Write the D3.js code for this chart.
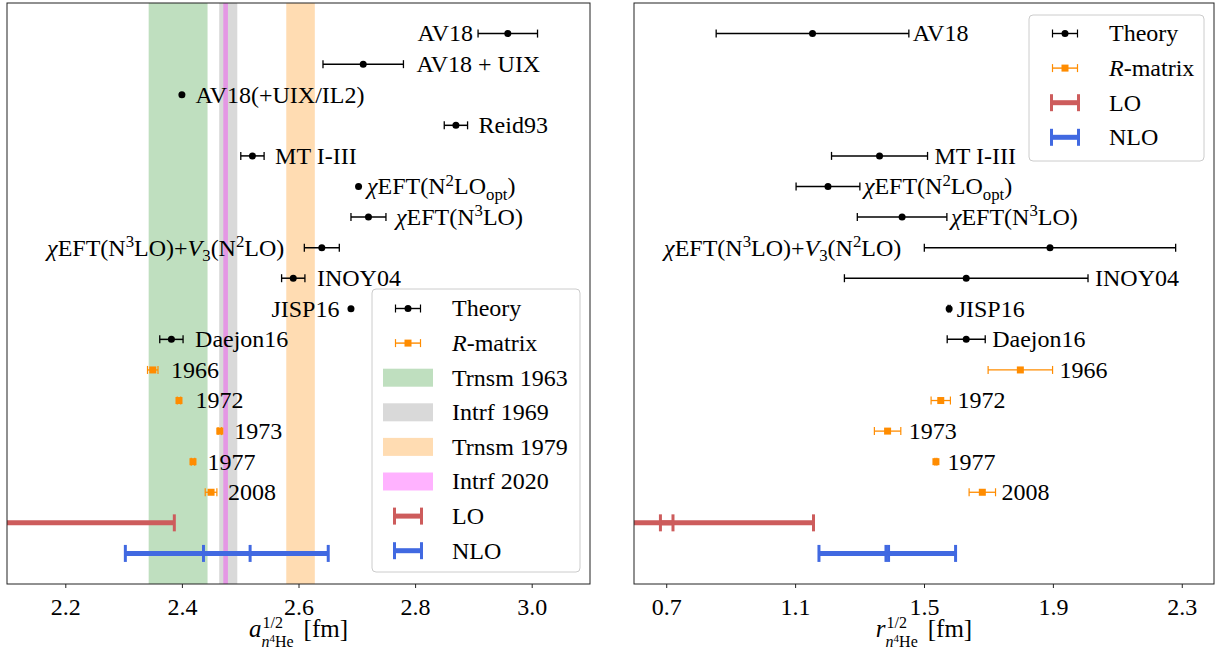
<!DOCTYPE html>
<html><head><meta charset="utf-8">
<script src="https://cdn.jsdelivr.net/npm/d3@7"></script>
<style>
body{margin:0;background:#fff}
svg{display:block}
svg text{font-family:'Liberation Serif','DejaVu Serif',serif;fill:#000}
</style>
</head><body>
<svg id="c" width="1217" height="652" font-family="'Liberation Serif','DejaVu Serif',serif"></svg>
<script>
// ---------------- DATA ----------------
const rowNames = ["AV18","AV18 + UIX","AV18(+UIX/IL2)","Reid93","MT I-III",
  "*χ*EFT(N^{2}LO_{opt})","*χ*EFT(N^{3}LO)","*χ*EFT(N^{3}LO)+*V*_{3}(N^{2}LO)",
  "INOY04","JISP16","Daejon16","1966","1972","1973","1977","2008","LO","NLO"];

// left panel: a^{1/2} [fm]
const theoryRowsA = [0,1,2,3,4,5,6,7,8,9,10];
const theoryValA  = [2.959,2.711,2.400,2.870,2.521,2.703,2.720,2.640,2.591,2.690,2.382];
const theoryErrA  = [0.051,0.069,0.000,0.020,0.020,0.000,0.030,0.030,0.020,0.000,0.020];
const rmatRows    = [11,12,13,14,15];
const rmatValA    = [2.350,2.395,2.465,2.419,2.450];
const rmatErrA    = [0.009,0.003,0.003,0.003,0.010];
const eftRows     = [16,17];
const eftValA     = [1.950,2.477];
const eftInnerErrA= [0.050,0.040];
const eftOuterErrA= [0.437,0.174];
const bandNames = ["Trnsm 1963","Intrf 1969","Trnsm 1979","Intrf 2020"];
const bandLo    = [2.343,2.464,2.579,2.471];
const bandHi    = [2.444,2.495,2.628,2.479];
const xTicksA = [2.2,2.4,2.6,2.8,3.0];

// right panel: r^{1/2} [fm]
const theoryRowsR = [0,4,5,6,7,8,9,10];
const theoryValR  = [1.154,1.362,1.202,1.432,1.891,1.631,1.578,1.631];
const theoryErrR  = [0.299,0.149,0.099,0.139,0.390,0.378,0.003,0.059];
const rmatValR    = [1.799,1.552,1.387,1.537,1.681];
const rmatErrR    = [0.100,0.030,0.041,0.003,0.041];
const eftValR     = [0.7015,1.386];
const eftInnerErrR= [0.0195,0.004];
const eftOuterErrR= [0.4555,0.212];
const xTicksR = [0.7,1.1,1.5,1.9,2.3];

const legendSeries = ["Theory","*R*-matrix"];
const legendEft = ["LO","NLO"];

// ---------------- LAYOUT / STYLE ----------------
const FONT = "'Liberation Serif','DejaVu Serif',serif";
const FS = 24;
const COL = {theory:"#000", rmat:"#ff8c00", LO:"#cd5c5c", NLO:"#4169e1"};
const bandFill = ["green","gray","darkorange","magenta"];
const bandOpacity = [0.25,0.3,0.3,0.3];
const labelSideA = ["L","R","R","R","R","R","R","L","R","L","R","R","R","R","R","R"];
const labelGapA  = [5,13,10,11,11,5,10,20,12,8,12,13,13,11,11,11];
const labelRowsR = [0,4,5,6,7,8,9,10,11,12,13,14,15];
const labelSideR = ["R","R","R","R","L","R","R","R","R","R","R","R","R"];
const labelGapR  = [4,7,4,4,23,7,4,7,7,7,8,8,6];

const svg = d3.select("#c");
const yTop = 3, yBot = 584;
const y = d3.scaleLinear().domain([-1,18]).range([yTop,yBot]);

function parseRich(s){
  const segs=[]; let i=0, italic=false, buf="";
  const push=(t,mode)=>{ if(t) segs.push({t,mode,italic}); };
  while(i<s.length){
    const c=s[i];
    if(c==="*"){ push(buf,"n"); buf=""; italic=!italic; i++; }
    else if((c==="^"||c==="_") && s[i+1]==="{"){
      push(buf,"n"); buf="";
      const j=s.indexOf("}",i);
      const inner=s.slice(i+2,j);
      segs.push({t:inner,mode:c==="^"?"sup":"sub",italic:false});
      i=j+1;
    } else { buf+=c; i++; }
  }
  push(buf,"n");
  return segs;
}
function richText(parent, xpos, yc, s, fs, anchor){
  const t = parent.append("text").attr("x",xpos).attr("y",yc+0.33*fs)
    .attr("font-size",fs).attr("font-family",FONT).attr("text-anchor",anchor||"start");
  const segs=parseRich(s);
  let shift=0;
  segs.forEach(sg=>{
    const ts=t.append("tspan").text(sg.t);
    if(sg.italic) ts.attr("font-style","italic");
    let target=0, size=fs;
    if(sg.mode==="sup"){ target=-0.36*fs; size=0.7*fs; }
    if(sg.mode==="sub"){ target=0.22*fs; size=0.7*fs; }
    ts.attr("font-size",size);
    if(target-shift!==0) ts.attr("dy",target-shift);
    shift=target;
  });
  return t;
}
function measure(str,size,italic){
  const t=svg.append("text").attr("font-size",size).attr("font-family",FONT).text(str);
  if(italic) t.attr("font-style","italic");
  const w=t.node().getComputedTextLength(); t.remove(); return w;
}

function panel(cfg){
  const x = d3.scaleLinear().domain(cfg.domain).range([cfg.x0,cfg.x1]);
  const g = svg.append("g");
  const clipId = "clip"+cfg.id;
  svg.append("clipPath").attr("id",clipId).append("rect")
    .attr("x",cfg.x0).attr("y",yTop).attr("width",cfg.x1-cfg.x0).attr("height",yBot-yTop);
  const data = g.append("g").attr("clip-path",`url(#${clipId})`);

  if(cfg.bands){
    bandLo.forEach((lo,i)=>{
      data.append("rect").attr("x",x(lo)).attr("y",yTop)
        .attr("width",x(bandHi[i])-x(lo)).attr("height",yBot-yTop)
        .attr("fill",bandFill[i]).attr("fill-opacity",bandOpacity[i]);
    });
  }

  function errbar(row,v,err,color,lw,capH,capW){
    const yy=y(row);
    if(err>0){
      data.append("line").attr("x1",x(v-err)).attr("x2",x(v+err)).attr("y1",yy).attr("y2",yy)
        .attr("stroke",color).attr("stroke-width",lw);
      [v-err,v+err].forEach(e=>data.append("line").attr("x1",x(e)).attr("x2",x(e))
        .attr("y1",yy-capH).attr("y2",yy+capH).attr("stroke",color).attr("stroke-width",capW));
    }
  }
  cfg.tRows.forEach((r,i)=>{
    errbar(r,cfg.tVal[i],cfg.tErr[i],COL.theory,1.5,4,1.3);
    data.append("circle").attr("cx",x(cfg.tVal[i])).attr("cy",y(r)).attr("r",3.5).attr("fill",COL.theory);
  });
  rmatRows.forEach((r,i)=>{
    errbar(r,cfg.rVal[i],cfg.rErr[i],COL.rmat,1.3,4,1.2);
    data.append("rect").attr("x",x(cfg.rVal[i])-3.5).attr("y",y(r)-3.5).attr("width",7).attr("height",7).attr("fill",COL.rmat);
  });
  eftRows.forEach((r,i)=>{
    const c = i===0?COL.LO:COL.NLO;
    errbar(r,cfg.eVal[i],cfg.eOut[i],c,5,8.5,3);
    errbar(r,cfg.eVal[i],cfg.eIn[i],c,5,8.5,3);
  });

  cfg.lRows.forEach((r,k)=>{
    let v,err,rad=3.5;
    const ti=cfg.tRows.indexOf(r);
    if(ti>=0){ v=cfg.tVal[ti]; err=cfg.tErr[ti]; }
    else { const ri=rmatRows.indexOf(r); v=cfg.rVal[ri]; err=cfg.rErr[ri]; }
    const side=cfg.lSide[k], gap=cfg.lGap[k];
    let px;
    if(side==="R") px=Math.max(x(v+err), x(v)+rad)+gap;
    else px=Math.min(x(v-err), x(v)-rad)-gap;
    richText(g, px, y(r), rowNames[r], FS, side==="R"?"start":"end");
  });

  g.append("rect").attr("x",cfg.x0).attr("y",yTop).attr("width",cfg.x1-cfg.x0).attr("height",yBot-yTop)
    .attr("fill","none").attr("stroke","#222").attr("stroke-width",1);
  const ax = g.append("g").attr("transform",`translate(0,${yBot})`)
    .call(d3.axisBottom(x).tickValues(cfg.ticks).tickFormat(d3.format(".1f")).tickSize(4).tickPadding(10));
  ax.attr("font-family",FONT);
  ax.select(".domain").remove();
  ax.selectAll(".tick line").attr("stroke","#222");
  ax.selectAll(".tick text").attr("font-size",FS).attr("font-family",FONT).attr("fill","#000");

  // axis label as one text element with positioned tspans
  const LF = 25, SF = 16;
  const wm = measure(cfg.sym,LF,true);
  const wsup = measure("1/2",SF,false)+1;
  const wsub = measure("n",SF,true)+measure("4",11,false)+measure("He",SF,false);
  const wtot = wm + Math.max(wsup,wsub) + 10 + measure("[fm]",LF,false);
  const x0 = (cfg.x0+cfg.x1)/2 - wtot/2, base = 637;
  const lt = g.append("text").attr("font-family",FONT).attr("font-size",LF);
  lt.append("tspan").attr("x",x0).attr("y",base).attr("font-style","italic").text(cfg.sym);
  lt.append("tspan").attr("x",x0+wm+1).attr("y",base-9).attr("font-size",SF).text("1/2");
  lt.append("tspan").attr("x",x0+wm).attr("y",base+10).attr("font-size",SF).attr("font-style","italic").text("n");
  lt.append("tspan").attr("y",base+4.5).attr("font-size",11).text("4");
  lt.append("tspan").attr("y",base+10).attr("font-size",SF).text("He");
  lt.append("tspan").attr("x",x0+wm+Math.max(wsup,wsub)+10).attr("y",base).text("[fm]");

  const L = cfg.legend;
  const lg = g.append("g");
  lg.append("rect").attr("x",L.x).attr("y",L.y).attr("width",L.w).attr("height",L.h).attr("rx",4)
    .attr("fill","#fff").attr("fill-opacity",0.8).attr("stroke","#cccccc").attr("stroke-width",1);
  const hc = L.x+36, tx = L.x+80;
  let entries=[];
  entries.push({kind:"theory",label:legendSeries[0]});
  entries.push({kind:"rmat",label:legendSeries[1]});
  if(cfg.bands) bandNames.forEach((b,i)=>entries.push({kind:"band",i,label:b}));
  entries.push({kind:"LO",label:legendEft[0]});
  entries.push({kind:"NLO",label:legendEft[1]});
  entries.forEach((e,k)=>{
    const yy = L.y0 + k*L.dy;
    if(e.kind==="theory"||e.kind==="rmat"){
      const c = e.kind==="theory"?COL.theory:COL.rmat;
      lg.append("line").attr("x1",hc-12.5).attr("x2",hc+12.5).attr("y1",yy).attr("y2",yy).attr("stroke",c).attr("stroke-width",1.4);
      [hc-12.5,hc+12.5].forEach(xx=>lg.append("line").attr("x1",xx).attr("x2",xx).attr("y1",yy-4).attr("y2",yy+4).attr("stroke",c).attr("stroke-width",1.2));
      if(e.kind==="theory") lg.append("circle").attr("cx",hc).attr("cy",yy).attr("r",3.5).attr("fill",c);
      else lg.append("rect").attr("x",hc-3.5).attr("y",yy-3.5).attr("width",7).attr("height",7).attr("fill",c);
    } else if(e.kind==="band"){
      lg.append("rect").attr("x",hc-25).attr("y",yy-9).attr("width",50).attr("height",18)
        .attr("fill",bandFill[e.i]).attr("fill-opacity",bandOpacity[e.i]);
    } else {
      const c = COL[e.kind];
      lg.append("line").attr("x1",hc-13.5).attr("x2",hc+13.5).attr("y1",yy).attr("y2",yy).attr("stroke",c).attr("stroke-width",5);
      [hc-13.5,hc+13.5].forEach(xx=>lg.append("line").attr("x1",xx).attr("x2",xx).attr("y1",yy-8.5).attr("y2",yy+8.5).attr("stroke",c).attr("stroke-width",3));
    }
    richText(lg, tx, yy, e.label, FS, "start");
  });
}

panel({id:"A",domain:[2.1,3.1],x0:7,x1:590,bands:true,
  tRows:theoryRowsA,tVal:theoryValA,tErr:theoryErrA,rVal:rmatValA,rErr:rmatErrA,
  eVal:eftValA,eIn:eftInnerErrA,eOut:eftOuterErrA,ticks:xTicksA,
  lRows:d3.range(16),lSide:labelSideA,lGap:labelGapA,sym:"a",
  legend:{x:372,y:289,w:208,h:283,y0:308.5,dy:34.6}});

panel({id:"R",domain:[0.6,2.4],x0:634,x1:1214,bands:false,
  tRows:theoryRowsR,tVal:theoryValR,tErr:theoryErrR,rVal:rmatValR,rErr:rmatErrR,
  eVal:eftValR,eIn:eftInnerErrR,eOut:eftOuterErrR,ticks:xTicksR,
  lRows:labelRowsR,lSide:labelSideR,lGap:labelGapR,sym:"r",
  legend:{x:1029,y:15,w:175,h:146,y0:33.5,dy:34.6}});
</script>
</body></html>
